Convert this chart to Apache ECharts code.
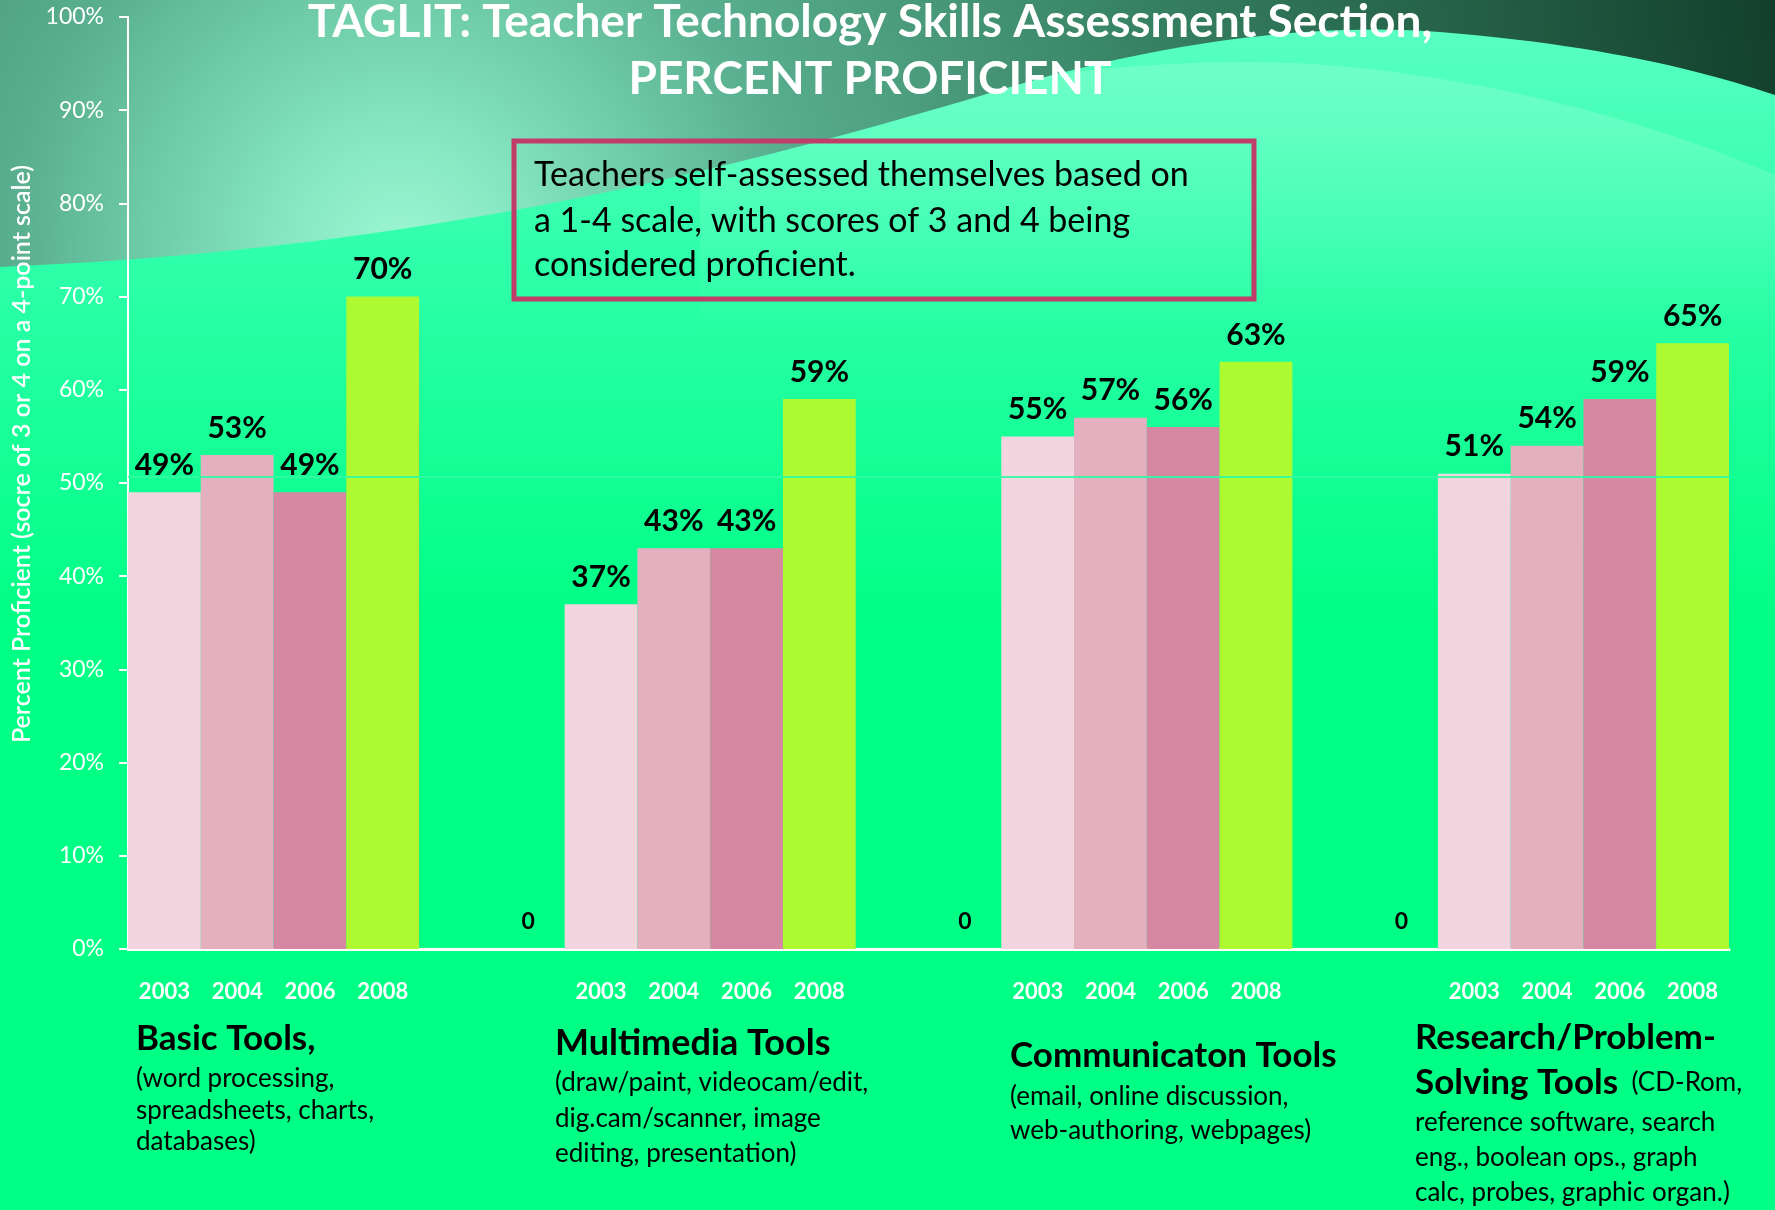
<!DOCTYPE html>
<html>
<head>
<meta charset="utf-8">
<title>TAGLIT: Teacher Technology Skills Assessment</title>
<script src="https://cdn.jsdelivr.net/npm/echarts@6/dist/echarts.min.js"></script>
<style>
  html, body { margin: 0; padding: 0; background: #00ff85; }
  #main { width: 1775px; height: 1210px; }
</style>
</head>
<body>
<div id="main"></div>
<script>
// 数据
var categories = ['Basic Tools', 'Multimedia Tools', 'Communicaton Tools', 'Research/Problem-Solving Tools'];
var years = ['2003', '2004', '2006', '2008'];
var values2003 = [49, 37, 55, 51];
var values2004 = [53, 43, 57, 54];
var values2006 = [49, 43, 56, 59];
var values2008 = [70, 59, 63, 65];
var gapZeros = [0, 0, 0]; // the lone "0" between groups
var yearColors = ['#f2d5df', '#e4b0c0', '#d688a3', '#adfa30'];

var seriesValues = [values2003, values2004, values2006, values2008];
var FONT = 'Lato, "Open Sans", sans-serif';

// every bar gets its own slot: 4 bars, then an empty slot and a "0" slot
var slotLabels = [];
categories.forEach(function (c, g) {
  years.forEach(function (y) { slotLabels.push(y); });
  if (g < categories.length - 1) {
    slotLabels.push('');
    slotLabels.push('');
  }
});
var groupSize = years.length + 2;

function emptySlots() {
  return slotLabels.map(function () { return null; });
}

var series = years.map(function (y, i) {
  var data = emptySlots();
  categories.forEach(function (c, g) {
    data[g * groupSize + i] = seriesValues[i][g];
  });
  return {
    name: y,
    type: 'bar',
    data: data,
    barGap: '-100%',
    barCategoryGap: '0%',
    itemStyle: { color: yearColors[i] },
    label: {
      show: true,
      position: 'top',
      distance: 12,
      formatter: '{c}%',
      color: '#000',
      fontFamily: FONT,
      fontWeight: 'bold',
      fontSize: 30
    }
  };
});

var zeroData = emptySlots();
gapZeros.forEach(function (v, g) {
  zeroData[g * groupSize + years.length + 1] = v;
});
series.push({
  name: 'gap',
  type: 'bar',
  data: zeroData,
  barGap: '-100%',
  barCategoryGap: '0%',
  itemStyle: { color: 'transparent' },
  label: {
    show: true,
    position: 'top',
    distance: 16,
    formatter: '{c}',
    color: '#000',
    fontFamily: FONT,
    fontWeight: 'bold',
    fontSize: 23
  }
});

// 背景曲线: cubic bezier segments sampled into polygon points
function curve(start, segs, tail) {
  var pts = [start];
  var p0 = start;
  segs.forEach(function (s) {
    for (var k = 1; k <= 24; k++) {
      var t = k / 24, u = 1 - t;
      pts.push([
        u * u * u * p0[0] + 3 * u * u * t * s[0][0] + 3 * u * t * t * s[1][0] + t * t * t * s[2][0],
        u * u * u * p0[1] + 3 * u * u * t * s[0][1] + 3 * u * t * t * s[1][1] + t * t * t * s[2][1]
      ]);
    }
    p0 = s[2];
  });
  return pts.concat(tail);
}

var G = echarts.graphic;

// 下面的文字
function txt(x, y, text, size, bold) {
  return {
    type: 'text', z: 10, x: x, y: y,
    style: {
      text: text, fill: '#000', verticalAlign: 'middle',
      font: (bold ? 'bold ' : '') + size + 'px ' + FONT
    }
  };
}

var graphics = [
  {
    type: 'rect', z: -20,
    shape: { x: 0, y: 0, width: 1775, height: 620 },
    style: {
      fill: new G.LinearGradient(0, 0, 0, 620, [
        { offset: 0, color: '#5effc4' },
        { offset: 0.4, color: '#30ffab' },
        { offset: 1, color: '#00ff85' }
      ], true)
    }
  },
  {
    type: 'polygon', z: -19,
    shape: {
      points: curve([700, 150],
        [[[900, 90], [1100, 60], [1260, 62]], [[1450, 65], [1650, 120], [1775, 175]]],
        [[1775, 420], [700, 420]])
    },
    style: {
      fill: new G.LinearGradient(0, 60, 0, 330, [
        { offset: 0, color: 'rgba(130,255,205,0.6)' },
        { offset: 1, color: 'rgba(130,255,205,0)' }
      ], true)
    }
  },
  {
    type: 'polygon', z: -18,
    shape: {
      points: curve([0, 267],
        [[[400, 250], [700, 180], [1000, 90]], [[1200, 30], [1350, 25], [1440, 32]], [[1600, 45], [1700, 70], [1775, 95]]],
        [[1775, 0], [0, 0]])
    },
    style: {
      fill: new G.RadialGradient(400, 250, 1400, [
        { offset: 0, color: '#9ef6d3' },
        { offset: 0.08, color: '#86e8c2' },
        { offset: 0.28, color: '#58ae8e' },
        { offset: 0.55, color: '#378264' },
        { offset: 1, color: '#123f2b' }
      ], true)
    }
  },
  // thin line across the bars
  {
    type: 'line', z: 10,
    shape: { x1: 128, y1: 477, x2: 1729, y2: 477 },
    style: { stroke: 'rgba(50,250,165,0.9)', lineWidth: 2 }
  },
  // note box
  {
    type: 'rect', z: 10,
    shape: { x: 514, y: 141, width: 740, height: 158 },
    style: { fill: 'transparent', stroke: '#c03d6a', lineWidth: 5 }
  },
  txt(534, 175, 'Teachers self-assessed themselves based on', 34, false),
  txt(534, 221, 'a 1-4 scale, with scores of 3 and 4 being', 34, false),
  txt(534, 265, 'considered proficient.', 34, false),
  // y axis name
  {
    type: 'text', z: 10, x: 22, y: 454, rotation: Math.PI / 2,
    style: {
      text: 'Percent Proficient (socre of 3 or 4 on a 4-point scale)',
      fill: '#fff', align: 'center', verticalAlign: 'middle',
      font: '600 25px ' + FONT
    }
  },
  // group captions
  txt(136, 1039, 'Basic Tools,', 35, true),
  txt(136, 1079, '(word processing,', 26, false),
  txt(136, 1111, 'spreadsheets, charts,', 26, false),
  txt(136, 1142, 'databases)', 26, false),

  txt(555, 1043, 'Multimedia Tools', 36, true),
  txt(555, 1083, '(draw/paint, videocam/edit,', 26, false),
  txt(555, 1119, 'dig.cam/scanner, image', 26, false),
  txt(555, 1154, 'editing, presentation)', 26, false),

  txt(1010, 1056, 'Communicaton Tools', 35, true),
  txt(1010, 1097, '(email, online discussion,', 26, false),
  txt(1010, 1131, 'web-authoring, webpages)', 26, false),

  txt(1415, 1038, 'Research/Problem-', 35, true),
  {
    type: 'text', z: 10, x: 1415, y: 1083,
    style: {
      text: '{b|Solving Tools}{r|  (CD-Rom,}',
      verticalAlign: 'middle',
      rich: {
        b: { fill: '#000', font: 'bold 35px ' + FONT },
        r: { fill: '#000', font: '26px ' + FONT }
      }
    }
  },
  txt(1415, 1123, 'reference software, search', 26, false),
  txt(1415, 1158, 'eng., boolean ops., graph', 26, false),
  txt(1415, 1193, 'calc, probes, graphic organ.)', 26, false)
];

var myChart = echarts.init(document.getElementById('main'));
var option = {
  backgroundColor: '#00ff85',
  animation: false,
  title: {
    text: 'TAGLIT: Teacher Technology Skills Assessment Section,\nPERCENT PROFICIENT',
    left: 870,
    top: -6,
    padding: 0,
    textAlign: 'center',
    textStyle: {
      color: '#fff',
      fontFamily: FONT,
      fontWeight: 'bold',
      fontSize: 46,
      lineHeight: 57
    }
  },
  grid: { left: 128, right: 46, top: 17, bottom: 261 },
  xAxis: {
    type: 'category',
    data: slotLabels,
    axisLine: { lineStyle: { color: '#fff', width: 3 } },
    axisTick: { show: false },
    axisLabel: {
      interval: 0,
      margin: 32,
      color: '#fff',
      fontFamily: FONT,
      fontWeight: 'bold',
      fontSize: 22
    }
  },
  yAxis: {
    type: 'value',
    min: 0,
    max: 100,
    interval: 10,
    splitLine: { show: false },
    axisLine: { show: true, lineStyle: { color: '#fff', width: 2 } },
    axisTick: { show: true, length: 9, lineStyle: { color: '#fff', width: 2 } },
    axisLabel: {
      formatter: '{value}%',
      margin: 24,
      color: '#fff',
      fontFamily: FONT,
      fontSize: 23
    }
  },
  graphic: graphics,
  series: series
};
myChart.setOption(option);
</script>
</body>
</html>
